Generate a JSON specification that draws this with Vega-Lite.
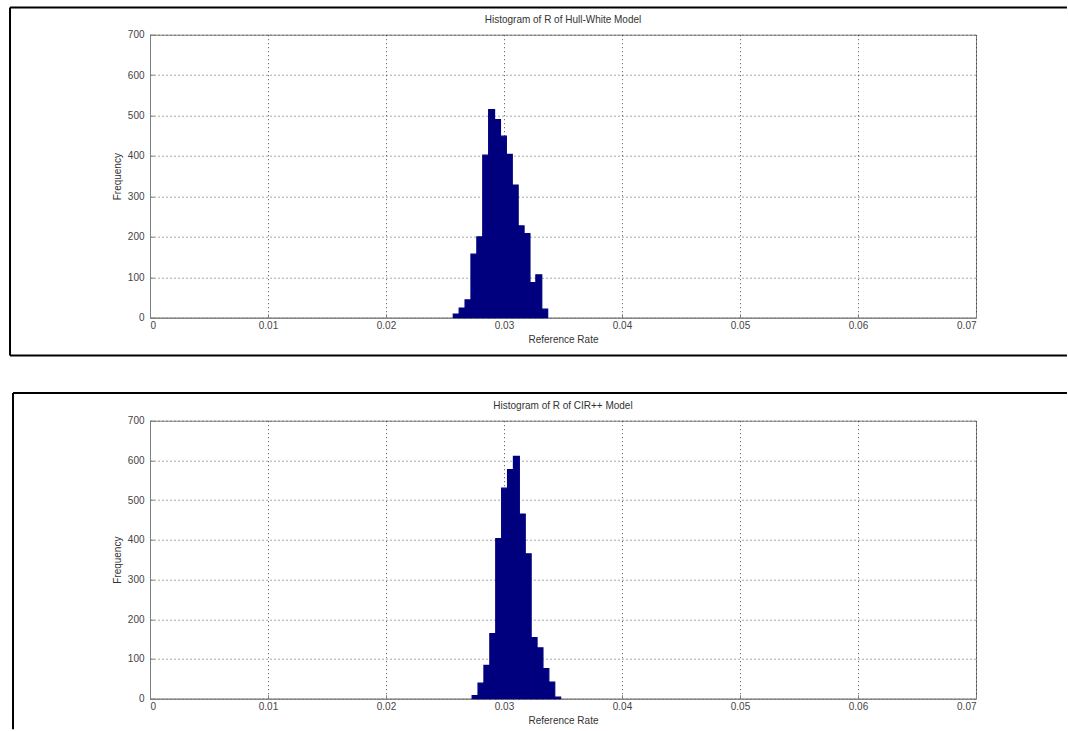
{
  "$schema": "https://vega.github.io/schema/vega-lite/v6.json",
  "background": "white",
  "padding": {"left": 8, "top": 5.7, "right": 0, "bottom": 0},
  "spacing": 33,
  "datasets": {
    "hw": [
      {"lo": 0.0257, "hi": 0.0262, "count": 9},
      {"lo": 0.0262, "hi": 0.0267, "count": 24},
      {"lo": 0.0267, "hi": 0.0272, "count": 44},
      {"lo": 0.0272, "hi": 0.0277, "count": 157},
      {"lo": 0.0277, "hi": 0.0282, "count": 200},
      {"lo": 0.0282, "hi": 0.0287, "count": 402},
      {"lo": 0.0287, "hi": 0.0292, "count": 515},
      {"lo": 0.0292, "hi": 0.0297, "count": 490},
      {"lo": 0.0297, "hi": 0.0302, "count": 449},
      {"lo": 0.0302, "hi": 0.0307, "count": 404},
      {"lo": 0.0307, "hi": 0.0312, "count": 328},
      {"lo": 0.0312, "hi": 0.0317, "count": 227},
      {"lo": 0.0317, "hi": 0.0322, "count": 208},
      {"lo": 0.0322, "hi": 0.0327, "count": 87},
      {"lo": 0.0327, "hi": 0.0332, "count": 106},
      {"lo": 0.0332, "hi": 0.0337, "count": 21}
    ],
    "cir": [
      {"lo": 0.0273, "hi": 0.0278, "count": 8},
      {"lo": 0.0278, "hi": 0.0283, "count": 39},
      {"lo": 0.0283, "hi": 0.0288, "count": 84},
      {"lo": 0.0288, "hi": 0.0293, "count": 164},
      {"lo": 0.0293, "hi": 0.0298, "count": 403},
      {"lo": 0.0298, "hi": 0.0303, "count": 530},
      {"lo": 0.0303, "hi": 0.0308, "count": 577},
      {"lo": 0.0308, "hi": 0.0313, "count": 610},
      {"lo": 0.0313, "hi": 0.0318, "count": 465},
      {"lo": 0.0318, "hi": 0.0323, "count": 365},
      {"lo": 0.0323, "hi": 0.0328, "count": 154},
      {"lo": 0.0328, "hi": 0.0333, "count": 128},
      {"lo": 0.0333, "hi": 0.0338, "count": 76},
      {"lo": 0.0338, "hi": 0.0343, "count": 42},
      {"lo": 0.0343, "hi": 0.0348, "count": 4}
    ],
    "one": [{}]
  },
  "vconcat": [
    {
      "title": {"text": "Histogram of R of Hull-White Model"},
      "width": 826,
      "height": 283,
      "layer": [
        {
          "data": {"name": "hw"},
          "mark": {"type": "rect", "color": "#00007f", "stroke": "#00007f", "strokeWidth": 1.2},
          "encoding": {
            "x": {"field": "lo", "type": "quantitative", "scale": {"domain": [0, 0.07], "nice": false, "zero": false},
                  "axis": {"title": "Reference Rate", "values": [0, 0.01, 0.02, 0.03, 0.04, 0.05, 0.06, 0.07], "format": "~g"}},
            "x2": {"field": "hi"},
            "y": {"field": "count", "type": "quantitative", "scale": {"domain": [0, 700], "nice": false},
                  "axis": {"title": "Frequency", "values": [0, 100, 200, 300, 400, 500, 600, 700]}},
            "y2": {"datum": 0}
          }
        },
        {
          "data": {"name": "one"},
          "mark": {"type": "rule", "color": "black", "strokeWidth": 2},
          "encoding": {
            "x": {"datum": -0.011864, "type": "quantitative", "axis": {"title": "Reference Rate", "values": [0, 0.01, 0.02, 0.03, 0.04, 0.05, 0.06, 0.07], "format": "~g"}},
            "y": {"datum": 767.5, "type": "quantitative", "axis": {"title": "Frequency", "values": [0, 100, 200, 300, 400, 500, 600, 700]}},
            "y2": {"datum": -93.3}
          }
        },
        {
          "data": {"name": "one"},
          "mark": {"type": "rule", "color": "black", "strokeWidth": 2},
          "encoding": {
            "x": {"datum": -0.011864, "type": "quantitative", "axis": {"title": "Reference Rate", "values": [0, 0.01, 0.02, 0.03, 0.04, 0.05, 0.06, 0.07], "format": "~g"}},
            "x2": {"datum": 0.07771},
            "y": {"datum": 767.5, "type": "quantitative", "axis": {"title": "Frequency", "values": [0, 100, 200, 300, 400, 500, 600, 700]}}
          }
        },
        {
          "data": {"name": "one"},
          "mark": {"type": "rule", "color": "black", "strokeWidth": 2},
          "encoding": {
            "x": {"datum": -0.011864, "type": "quantitative", "axis": {"title": "Reference Rate", "values": [0, 0.01, 0.02, 0.03, 0.04, 0.05, 0.06, 0.07], "format": "~g"}},
            "x2": {"datum": 0.07771},
            "y": {"datum": -93.3, "type": "quantitative", "axis": {"title": "Frequency", "values": [0, 100, 200, 300, 400, 500, 600, 700]}}
          }
        }
      ]
    },
    {
      "title": {"text": "Histogram of R of CIR++ Model"},
      "width": 826,
      "height": 278,
      "layer": [
        {
          "data": {"name": "cir"},
          "mark": {"type": "rect", "color": "#00007f", "stroke": "#00007f", "strokeWidth": 1.2},
          "encoding": {
            "x": {"field": "lo", "type": "quantitative", "scale": {"domain": [0, 0.07], "nice": false, "zero": false},
                  "axis": {"title": "Reference Rate", "values": [0, 0.01, 0.02, 0.03, 0.04, 0.05, 0.06, 0.07], "format": "~g"}},
            "x2": {"field": "hi"},
            "y": {"field": "count", "type": "quantitative", "scale": {"domain": [0, 700], "nice": false},
                  "axis": {"title": "Frequency", "values": [0, 100, 200, 300, 400, 500, 600, 700]}},
            "y2": {"datum": 0}
          }
        },
        {
          "data": {"name": "one"},
          "mark": {"type": "rule", "color": "black", "strokeWidth": 2},
          "encoding": {
            "x": {"datum": -0.01161, "type": "quantitative", "axis": {"title": "Reference Rate", "values": [0, 0.01, 0.02, 0.03, 0.04, 0.05, 0.06, 0.07], "format": "~g"}},
            "y": {"datum": 770, "type": "quantitative", "axis": {"title": "Frequency", "values": [0, 100, 200, 300, 400, 500, 600, 700]}},
            "y2": {"datum": -76.8}
          }
        },
        {
          "data": {"name": "one"},
          "mark": {"type": "rule", "color": "black", "strokeWidth": 2},
          "encoding": {
            "x": {"datum": -0.01161, "type": "quantitative", "axis": {"title": "Reference Rate", "values": [0, 0.01, 0.02, 0.03, 0.04, 0.05, 0.06, 0.07], "format": "~g"}},
            "x2": {"datum": 0.07771},
            "y": {"datum": 770, "type": "quantitative", "axis": {"title": "Frequency", "values": [0, 100, 200, 300, 400, 500, 600, 700]}}
          }
        }
      ]
    }
  ],
  "config": {
    "font": "Liberation Sans",
    "view": {"stroke": "#7f7f7f", "strokeWidth": 1},
    "axis": {
      "domainColor": "#7f7f7f",
      "gridColor": "#222222",
      "gridDash": [1, 3],
      "gridOpacity": 0.8,
      "tickColor": "#7f7f7f",
      "tickSize": -4,
      "labelFontSize": 10,
      "labelColor": "#444444",
      "labelOverlap": false,
      "titleFontSize": 10,
      "titleFontWeight": "normal",
      "titleColor": "#333333"
    },
    "axisX": {"labelPadding": 7, "titlePadding": 4},
    "axisY": {"labelPadding": 10, "titlePadding": 5},
    "title": {"fontSize": 10, "fontWeight": "normal", "color": "#333333", "frame": "group", "offset": -19}
  }
}
